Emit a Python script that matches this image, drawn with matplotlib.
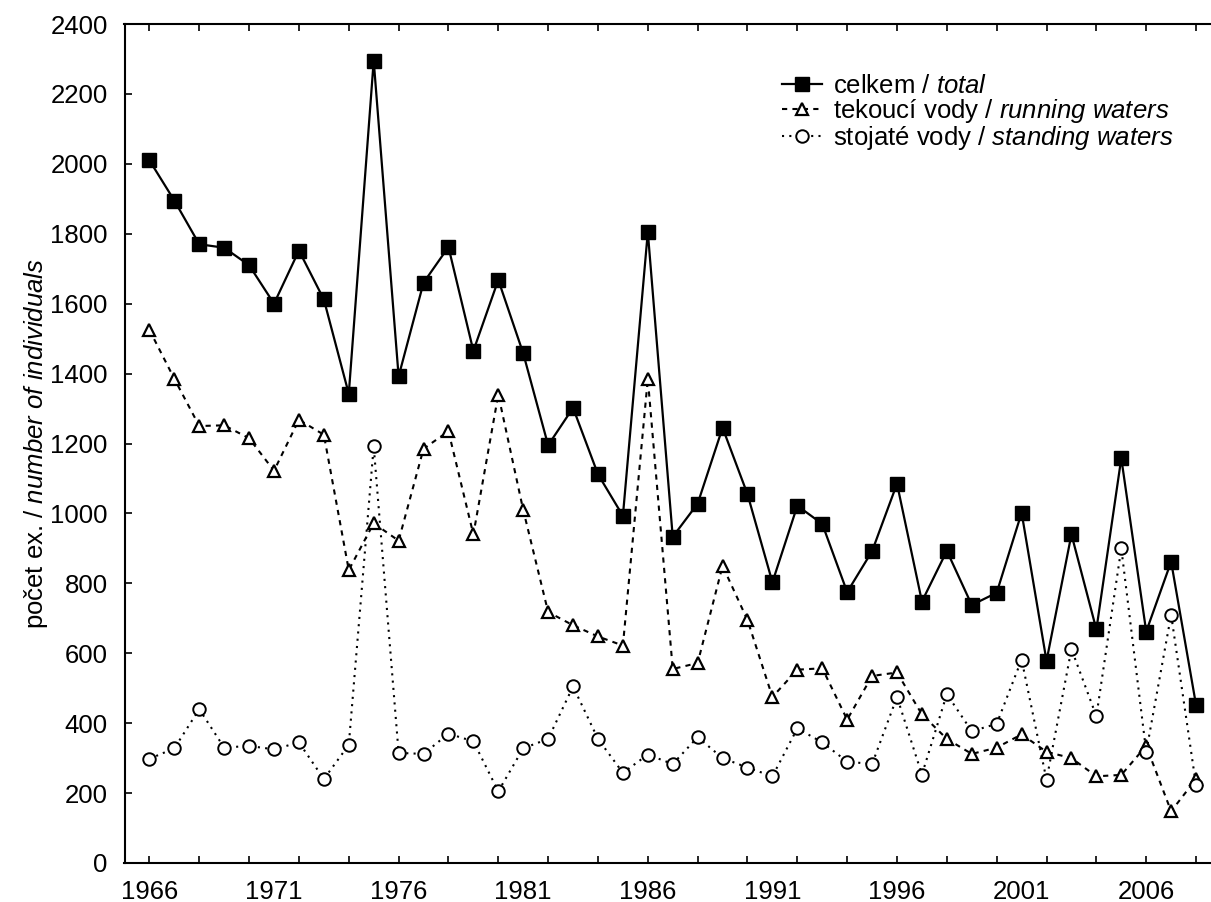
import numpy as np
import matplotlib
matplotlib.use("Agg")
import matplotlib.pyplot as plt

plt.rcParams['font.family'] = ['Liberation Sans', 'DejaVu Sans']
plt.rcParams['mathtext.fontset'] = 'custom'
plt.rcParams['mathtext.rm'] = 'Liberation Sans'
plt.rcParams['mathtext.it'] = 'Liberation Sans:italic'

years = list(range(1966, 2009))

# celkem / total
total = [2010, 1895, 1770, 1760, 1710, 1600, 1752, 1612, 1342, 2295,
         1392, 1660, 1762, 1465, 1668, 1458, 1195, 1302, 1112, 993,
         1805, 933, 1028, 1245, 1055, 803, 1022, 970, 775, 892,
         1085, 748, 893, 738, 773, 1002, 578, 940, 668, 1158,
         662, 862, 452]

# tekouci vody / running waters
running = [1525, 1385, 1250, 1252, 1215, 1122, 1268, 1225, 838, 972,
           922, 1185, 1235, 940, 1340, 1010, 718, 680, 648, 622,
           1385, 555, 572, 850, 695, 475, 553, 557, 410, 535,
           545, 425, 355, 312, 330, 368, 318, 300, 248, 252,
           335, 148, 240]

# stojate vody / standing waters
standing = [298, 328, 440, 330, 335, 325, 345, 240, 338, 1192,
            315, 312, 370, 348, 205, 328, 355, 505, 355, 258,
            310, 283, 360, 300, 273, 248, 385, 345, 290, 283,
            475, 253, 483, 377, 398, 582, 238, 612, 420, 900,
            318, 710, 222]

label_years = [1966, 1971, 1976, 1981, 1986, 1991, 1996, 2001, 2006]
y_ticks = list(range(0, 2401, 200))

fig = plt.figure(figsize=(12.11, 9.02), dpi=100)
ax = fig.add_axes([124.5 / 1211, 1 - 863 / 902, 1 - 124.5 / 1211, (863 - 24) / 902])

ax.plot(years, total, color='black', lw=1.6, marker='s', ms=9.5,
        mfc='black', mec='black', label=r'celkem / $\mathit{total}$')
ax.plot(years, running, color='black', lw=1.5, ls=(0, (2.5, 2.5)), marker='^', ms=8.5,
        mfc='white', mec='black', mew=1.6,
        label=r'tekoucí vody / $\mathit{running\ waters}$')
ax.plot(years, standing, color='black', lw=1.5, ls=(0, (1, 2.5)), marker='o', ms=9,
        mfc='white', mec='black', mew=1.4,
        label=r'stojaté vody / $\mathit{standing\ waters}$')

ax.set_xlim(1965.0, 2008.6)
ax.set_ylim(0, 2400)

# unlabelled ticks every two years, labels every five years
ax.xaxis.remove_overlapping_locs = False
ax.set_xticks(range(1966, 2009, 2))
ax.set_xticklabels([])
ax.set_xticks(label_years, minor=True)
ax.set_xticklabels([str(y) for y in label_years], minor=True)
ax.tick_params(axis='x', which='major', direction='in', length=5, width=1.2,
               top=True, bottom=True)
ax.tick_params(axis='x', which='minor', length=0, pad=12, labelsize=18.5)

ax.set_yticks(y_ticks)
ax.tick_params(axis='y', direction='in', length=5, width=1.2, pad=12, labelsize=18.5)

ax.spines['right'].set_visible(False)
for s in ['left', 'bottom', 'top']:
    ax.spines[s].set_linewidth(1.5)

ax.set_ylabel(r'počet ex. / $\mathit{number\ of\ individuals}$', fontsize=18.5, labelpad=0)

ax.legend(loc='upper left', bbox_to_anchor=(782 / 1211, 1 - 74 / 902),
          bbox_transform=fig.transFigure, frameon=False, fontsize=18.5,
          handlelength=1.55, handletextpad=0.45, labelspacing=-0.04,
          borderpad=0, borderaxespad=0)

fig.savefig('out.png', dpi=100)
